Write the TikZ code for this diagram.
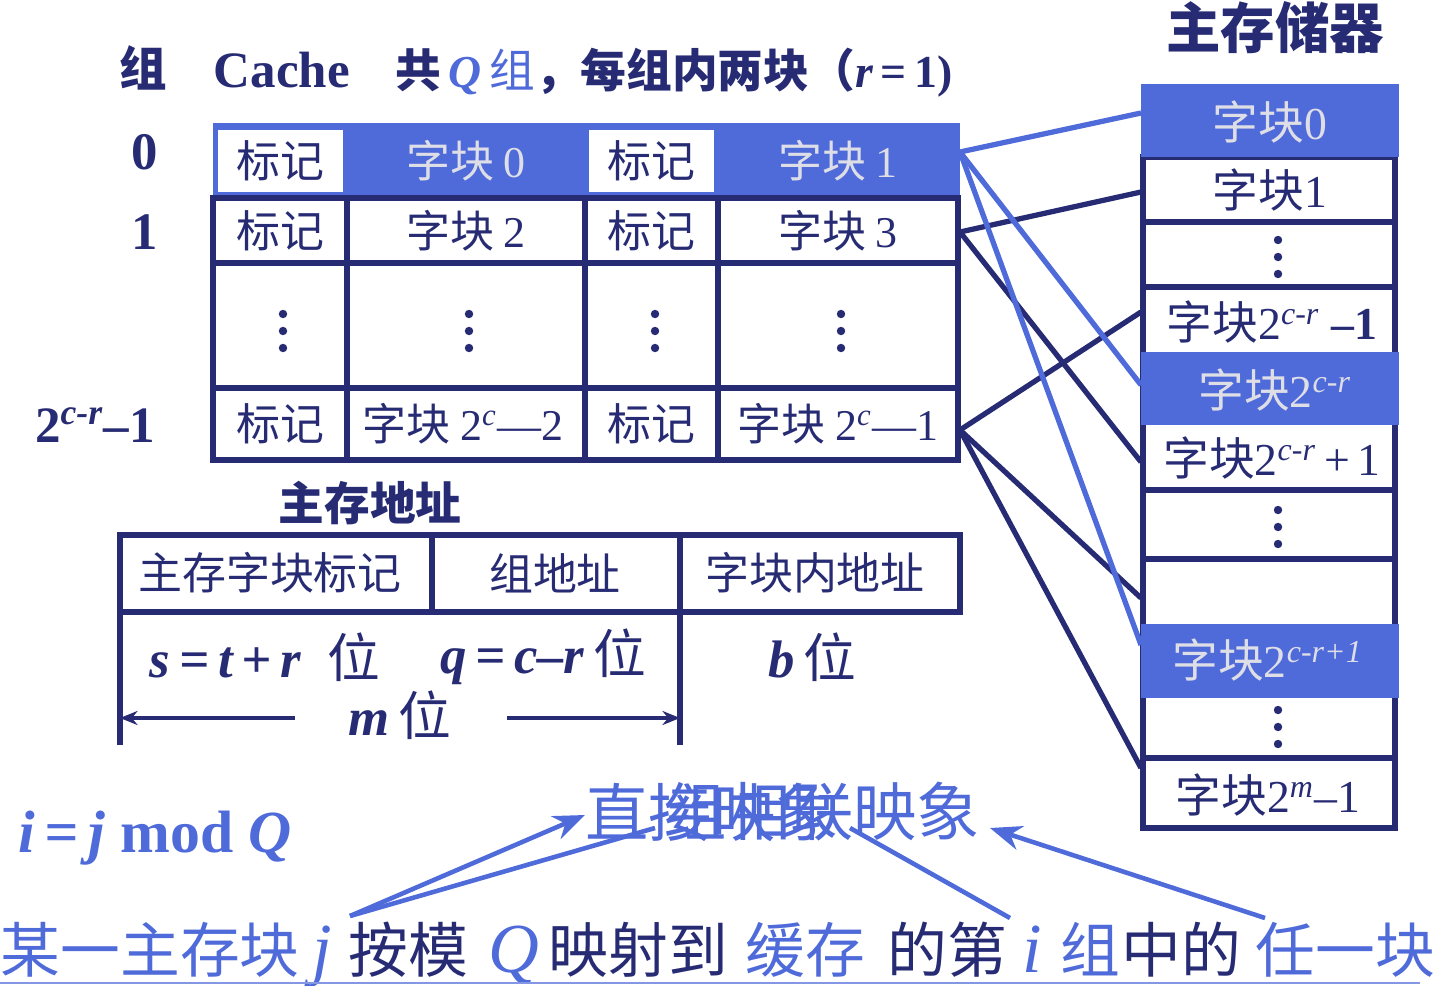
\documentclass[tikz,border=0pt]{standalone}
\usepackage{fontspec}
\setmainfont{Liberation Serif}
\newfontfamily\cjk{Noto Sans CJK SC}
\usetikzlibrary{arrows.meta}

\definecolor{navy}{RGB}{38,43,115}
\definecolor{cblue}{RGB}{79,106,217}
\definecolor{lgray}{RGB}{222,222,230}

\newcommand{\lat}[1]{{\rmfamily #1}}
\newcommand{\sq}[1]{\textsuperscript{\itshape #1}}
\newcommand{\fs}[1]{\fontsize{#1}{#1}\selectfont}

\tikzset{
  grid/.style={navy, line width=1.5pt},
  cell/.style={text=navy, font=\cjk\fs{12.5}, inner sep=0pt},
  hcell/.style={cell, text=lgray},
  mcell/.style={cell, font=\cjk\fs{13}},
  hmcell/.style={mcell, text=lgray},
  lab/.style={text=navy, font=\bfseries\fs{15}, inner sep=0pt},
  seg/.style={anchor=base west, inner sep=0pt, font=\cjk\fs{17}},
  link/.style={navy, line width=1.5pt},
  blink/.style={cblue, line width=1.5pt},
  arr/.style={navy, line width=1pt, -{Stealth[length=5pt,width=4pt]}},
  barr/.style={cblue, line width=1.3pt},
}

\begin{document}
\begin{tikzpicture}[x=0.01cm, y=-0.01cm]
	\useasboundingbox (0,0) rectangle (1446,985);

	% Cache
	\node[lab, font=\cjk\bfseries\fs{13.5}] (zu) at (143,68) {组};
	\node[anchor=west, inner sep=0pt, text=navy, font=\bfseries\fs{13}] (title) at (213,73)
		{{\fs{14.5}Cache}\quad{\cjk 共}\,{\color{cblue}\itshape Q\,{\cjk\mdseries 组}}{\cjk ，每组内两块（}\textit{r}\,=\,1)};
	\node[lab] (g0) at (145,152) {0};
	\node[lab] (g1) at (145,232) {1};
	\node[lab, font=\bfseries\fs{14.5}] (gn) at (95,425) {2\sq{c-r}–1};

	\fill[cblue] (213,123) rectangle (960,198);
	\fill[white] (218,130) rectangle (343,192);
	\fill[white] (589,130) rectangle (714,192);
	\draw[grid] (213,198) rectangle (958,460);
	\draw[grid] (213,263) -- (958,263);
	\draw[grid] (213,388) -- (958,388);
	\foreach \x in {347,585,718}
		\draw[grid] (\x,198) -- (\x,460);

	\node[cell] (t00) at (280,161) {标记};
	\node[hcell] (k0) at (466,161) {字块 \lat{0}};
	\node[cell] (t01) at (651,161) {标记};
	\node[hcell] (k1) at (838,161) {字块 \lat{1}};
	\node[cell] (t10) at (280,231) {标记};
	\node[cell] (k2) at (466,231) {字块 \lat{2}};
	\node[cell] (t11) at (651,231) {标记};
	\node[cell] (k3) at (838,231) {字块 \lat{3}};
	\node[cell] (tn0) at (280,424) {标记};
	\node[cell] (kn0) at (463,424) {字块 \lat{2\sq{c}—2}};
	\node[cell] (tn1) at (651,424) {标记};
	\node[cell] (kn1) at (838,424) {字块 \lat{2\sq{c}—1}};
	\foreach \x in {283,469,655,841}
		\foreach \d in {-17,0,17}
			\fill[navy] (\x,331+\d) circle (1.2pt);

	% main memory
	\node[lab, font=\cjk\bfseries\fs{15.5}] (mm) at (1275,28) {主存储器};
	\draw[grid] (1143,157) rectangle (1395,828);
	\foreach \y in {222,287,490,559,758}
		\draw[grid] (1143,\y) -- (1395,\y);

	\coordinate (c0) at (960,152);
	\coordinate (c1) at (960,232);
	\coordinate (cn) at (960,430);
	\coordinate (e0) at (1141,113);
	\coordinate (e1) at (1141,192);
	\coordinate (e3) at (1141,312);
	\coordinate (e4) at (1141,385);
	\coordinate (e5) at (1141,462);
	\coordinate (e7) at (1141,598);
	\coordinate (e8) at (1141,645);
	\coordinate (e10) at (1141,768);
	\draw[link] (c1) -- (e1);
	\draw[link] (c1) -- (e5);
	\draw[link] (cn) -- (e3);
	\draw[link] (cn) -- (e7);
	\draw[link] (cn) -- (e10);
	\draw[blink] (c0) -- (e0);
	\draw[blink] (c0) -- (e4);
	\draw[blink] (c0) -- (e8);

	\fill[cblue] (1141,84) rectangle (1399,157);
	\fill[cblue] (1141,352) rectangle (1399,425);
	\fill[cblue] (1141,624) rectangle (1399,698);

	\node[hmcell] (m0) at (1270,122) {字块\lat{0}};
	\node[mcell] (m1) at (1270,190) {字块\lat{1}};
	\node[mcell] (m3) at (1272,322) {字块\lat{2\sq{c-r} \textbf{–1}}};
	\node[hmcell] (m4) at (1275,390) {字块\lat{2\sq{c-r}}};
	\node[mcell] (m5) at (1272,458) {字块\lat{2\sq{c-r}\,+\,1}};
	\node[hmcell] (m8) at (1268,660) {字块\lat{2\sq{c-r+1}}};
	\node[mcell] (m10) at (1268,795) {字块\lat{2\sq{m}–1}};
	\foreach \y in {257,527,727}
		\foreach \d in {-17,0,17}
			\fill[navy] (1278,\y+\d) circle (1.2pt);

	% address
	\node[lab, font=\cjk\bfseries\fs{13}] (addr) at (370,503) {主存地址};
	\draw[grid] (120,535) rectangle (960,612);
	\draw[grid] (432,535) -- (432,612);
	\draw[grid] (680,535) -- (680,612);
	\draw[grid] (120,612) -- (120,745);
	\draw[grid] (680,612) -- (680,745);
	\node[cell] (ftag) at (270,573) {主存字块标记};
	\node[cell] (fset) at (555,573) {组地址};
	\node[cell] (fword) at (815,573) {字块内地址};
	\node[lab] (sbits) at (265,657) {\itshape s\,=\,t\,+\,r\ \ {\cjk\upshape\mdseries 位}};
	\node[lab] (qbits) at (543,657) {\itshape q\,=\,c–r\,{\cjk\upshape\mdseries 位}};
	\node[lab] (bbits) at (812,657) {\itshape b\,{\cjk\upshape\mdseries 位}};
	\node[lab] (mbits) at (400,715) {\itshape m\,{\cjk\upshape\mdseries 位}};
	\coordinate (a1) at (295,718);
	\coordinate (aL) at (120,718);
	\coordinate (a2) at (507,718);
	\coordinate (aR) at (680,718);
	\draw[arr] (a1) -- (aL);
	\draw[arr] (a2) -- (aR);

	% mapping
	\node[inner sep=0pt, text=cblue, font=\bfseries\fs{17}] (mod) at (155,838)
		{\itshape i\,=\,j\ \upshape mod\ \itshape Q};

	\coordinate (js) at (350,916);
	\coordinate (ds) at (1010,918);
	\coordinate (rs) at (1265,918);
	\coordinate (d2) at (655,828);
	\coordinate (g2) at (850,828);
	\draw[barr, -{Stealth[length=9pt,width=7pt]}] (js) -- (585,815);
	\draw[barr] (js) -- (d2);
	\draw[barr] (ds) -- (g2);
	\draw[barr, -{Stealth[length=9pt,width=7pt]}] (rs) -- (990,828);

	\node[inner sep=0pt, text=cblue, font=\cjk\fs{18}] (direct) at (712,812) {直接映象};
	\node[inner sep=0pt, text=cblue, font=\cjk\fs{18}] (assoc) at (822,812) {组相联映象};

	\node[seg, text=cblue] (s1) at (0,972) {某一主存块};
	\node[seg, text=cblue, font=\itshape\fs{20}] (sj) at (312,972) {j};
	\node[seg, text=navy] (s2) at (348,972) {按模};
	\node[seg, text=cblue, font=\itshape\fs{20}] (sq) at (488,972) {Q};
	\node[seg, text=navy] (s3) at (548,972) {映射到};
	\node[seg, text=cblue] (s4) at (745,972) {缓存};
	\node[seg, text=navy] (s5) at (887,972) {的第};
	\node[seg, text=cblue, font=\itshape\fs{20}] (si) at (1022,972) {i};
	\node[seg, text=cblue] (s6) at (1060,972) {组};
	\node[seg, text=navy] (s7) at (1121,972) {中的};
	\node[seg, text=cblue] (s8) at (1255,972) {任一块};
	\draw[cblue!70, line width=0.6pt] (0,983) -- (1420,983);
\end{tikzpicture}
\end{document}
